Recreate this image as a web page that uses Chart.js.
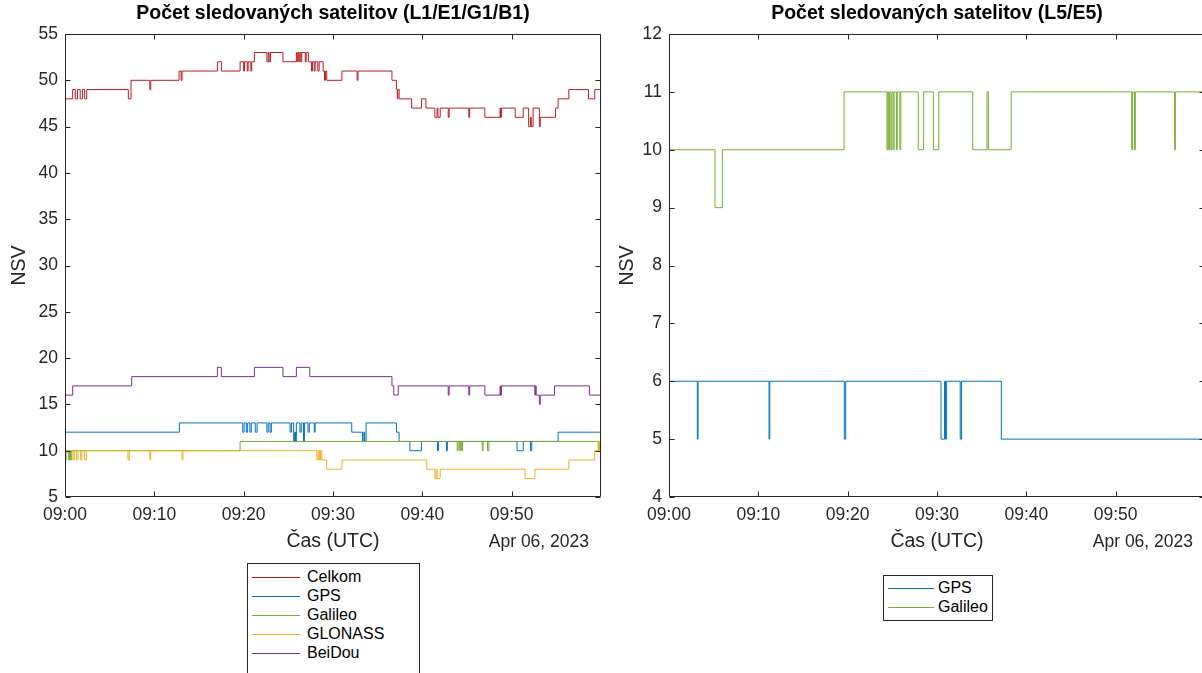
<!DOCTYPE html>
<html>
<head>
<meta charset="utf-8">
<script src="https://cdn.jsdelivr.net/npm/chart.js@4/dist/chart.umd.min.js"></script>
<style>
  html, body { margin: 0; padding: 0; background: #fff; }
  body { width: 1202px; height: 673px; overflow: hidden; position: relative;
         font-family: "Liberation Sans", Arial, Helvetica, sans-serif; }
  canvas { position: absolute; top: 0; }
  #chartL1 { left: 0; }
  #chartL5 { left: 610px; }
  .legend { position: absolute; border: 1px solid #262626; background: #fff;
            font-size: 16px; color: #000; box-sizing: border-box; }
  .legend .row { position: absolute; height: 19px; line-height: 19px; white-space: nowrap; }
  .legend .swatch { display: inline-block; height: 0; border-top: 1px solid;
                    vertical-align: middle; }
  .legend .name { position: absolute; top: 0; }
</style>
</head>
<body>
<canvas id="chartL1" width="610" height="560"></canvas>
<canvas id="chartL5" width="610" height="560"></canvas>
<div class="legend" id="legendL1" style="left:247px; top:563px; width:173px; height:125px;"></div>
<div class="legend" id="legendL5" style="left:883px; top:575px; width:110px; height:46px;"></div>

<script>
// ---- axis ticks (minutes after 09:00 UTC) ----
const timeTicks = [0, 10, 20, 30, 40, 50];
const timeTickLabels = ['09:00', '09:10', '09:20', '09:30', '09:40', '09:50'];
const dateLabel = 'Apr 06, 2023';
const nsvTicksL1 = [5, 10, 15, 20, 25, 30, 35, 40, 45, 50, 55];
const nsvTicksL5 = [4, 5, 6, 7, 8, 9, 10, 11, 12];

// ---- L1/E1/G1/B1 band: change points (minute) and tracked satellite count ----
const celkomT = [0, 0.86, 1.15, 1.4, 1.7, 1.95, 2.2, 2.43, 7.09, 7.39, 9.5, 9.6,
  12.77, 13.0, 13.1, 17.06, 17.5, 19.6, 20.0, 20.1, 20.4, 20.5, 20.8, 20.9, 21.2,
  22.6, 22.75, 22.85, 23.0, 24.4, 25.9, 26.0, 26.1, 26.2, 26.3, 26.4, 26.5, 26.9, 27.0,
  27.25, 27.6, 27.7, 27.9, 28.0, 28.3, 28.45, 28.9, 29.05, 29.15, 29.3, 31.0, 32.7, 32.8,
  36.6, 37.1, 37.2, 37.25, 37.4, 38.8, 39.9, 40.4, 41.4, 41.65, 41.75, 42.0, 42.9, 43.0,
  45.2, 45.3, 47.0, 48.7, 48.75, 48.85, 50.4, 51.3, 51.9, 52.1, 52.2, 52.4, 53.1, 53.2,
  54.9, 55.2, 56.4, 58.6, 59.3, 60];
const celkomV = [48, 49, 48, 49, 48, 49, 48, 49, 48, 50, 49, 50,
  51, 50, 51, 52, 51, 52, 51, 52, 51, 52, 51, 52, 53,
  52, 53, 52, 53, 52, 53, 52, 53, 52, 53, 52, 53, 52, 53,
  52, 51, 52, 51, 52, 51, 52, 51, 50, 51, 50, 51, 50, 51,
  50, 49, 48, 49, 48, 47, 48, 47, 46, 47, 46, 47, 46, 47,
  46, 47, 46, 47, 46, 47, 46, 47, 45, 46, 45, 47, 45, 46,
  47, 48, 49, 48, 49, 49];

const gpsT = [0, 12.8, 19.9, 20.05, 20.3, 20.45, 20.7, 20.85, 21.3, 21.5,
  22.6, 22.75, 22.95, 23.1, 25.2, 25.35, 25.6, 25.7, 25.8, 25.9, 26.3, 26.45, 26.7, 26.8,
  27.2, 27.35, 27.9, 28.0, 32.1, 33.3, 33.45, 33.55, 33.7, 37.1, 37.4, 38.6, 39.9,
  41.7, 41.8, 42.7, 42.8, 50.6, 51.3, 52.1, 52.25, 55.2, 60];
const gpsV = [12, 13, 12, 13, 12, 13, 12, 13, 12, 13,
  12, 13, 12, 13, 12, 13, 11, 12, 11, 13, 12, 13, 11, 13,
  12, 13, 12, 13, 12, 11, 12, 11, 13, 12, 11, 10, 11,
  10, 11, 10, 11, 10, 11, 10, 11, 12, 12];

const galileoT = [0, 0.37, 0.5, 0.62, 0.75, 19.6, 43.9, 44.0, 44.15, 44.25, 44.4, 44.5,
  46.7, 46.8, 47.3, 47.45, 59.7, 59.85, 60];
const galileoV = [10, 9, 10, 9, 10, 11, 10, 11, 10, 11, 10, 11,
  10, 11, 10, 11, 10, 11, 11];

const glonassT = [0, 0.15, 0.9, 1.05, 1.3, 1.45, 1.75, 1.9, 2.2, 2.4, 7.05, 7.2, 9.5, 9.6,
  13.1, 13.2, 28.2, 28.35, 28.5, 28.6, 28.75, 29.3, 31.0, 40.5, 41.4, 41.55, 41.65, 42.0,
  51.5, 52.6, 56.4, 59.3, 59.7, 59.85, 60];
const glonassV = [9, 10, 9, 10, 9, 10, 9, 10, 9, 10, 9, 10, 9, 10,
  9, 10, 9, 10, 9, 10, 9, 8, 9, 8, 7, 8, 7, 8,
  7, 8, 9, 10, 11, 10, 10];

const beidouT = [0, 0.86, 7.47, 17.06, 17.5, 21.2, 24.4, 25.9, 27.4, 36.6, 36.8, 37.3,
  42.9, 43.0, 45.2, 45.3, 47.0, 48.7, 48.75, 48.85, 52.6, 52.65, 52.75, 53.1, 53.2,
  54.8, 58.7, 60];
const beidouV = [16, 17, 18, 19, 18, 19, 18, 19, 18, 17, 16, 17,
  16, 17, 16, 17, 16, 17, 16, 17, 16, 17, 16, 15, 16,
  17, 16, 16];

// ---- L5/E5 band ----
const gpsL5T = [0, 3.17, 3.25, 11.2, 11.28, 19.62, 19.78, 30.45, 30.85, 30.95, 31.05,
  32.6, 32.75, 37.2, 60];
const gpsL5V = [6, 5, 6, 5, 6, 5, 6, 5, 6, 5, 6, 5, 6, 5, 5];

const galileoE5T = [0, 5.15, 5.97, 19.6, 24.4, 24.5, 24.6, 24.7, 24.85, 24.95, 25.1, 25.2,
  25.45, 25.55, 25.85, 25.95, 27.9, 28.5, 29.6, 30.2, 34.0, 35.6, 35.75, 38.3,
  51.8, 51.9, 52.1, 52.2, 56.6, 56.68, 60];
const galileoE5V = [10, 9, 10, 11, 10, 11, 10, 11, 10, 11, 10, 11,
  10, 11, 10, 11, 10, 11, 10, 11, 10, 11, 10, 11,
  10, 11, 10, 11, 10, 11, 11];

// ---- styling ----
const FONT = '"Liberation Sans", Arial, Helvetica, sans-serif';
const AXIS = '#262626';
const TICK_SIZE = 17.5;
const LABEL_SIZE = 19.5;
const COLORS = {
  celkom: '#B81D24', gps: '#0072BD', galileo: '#77AC30',
  glonass: '#EDB120', beidou: '#7E2F8E'
};
Chart.defaults.font.family = FONT;

function points(ts, vs) { return ts.map((t, i) => ({ x: t, y: vs[i] })); }

// later series are painted over earlier ones
function series(list) {
  return list.map((s, i) => ({
    label: s.label, data: points(s.t, s.v), borderColor: s.color,
    borderWidth: 1, stepped: true, pointRadius: 0, fill: false,
    order: list.length - 1 - i
  }));
}

// box around the plot area, inward tick marks on all four sides, date under the time axis
const frame = {
  id: 'frame',
  afterDraw(chart) {
    const { ctx, chartArea: a, scales: { x, y } } = chart;
    const L = Math.round(a.left) + 0.5, R = Math.round(a.right) - 0.5;
    const T = Math.round(a.top) + 0.5, B = Math.round(a.bottom) - 0.5;
    ctx.save();
    ctx.strokeStyle = AXIS;
    ctx.lineWidth = 1;
    ctx.beginPath();
    ctx.rect(L, T, R - L, B - T);
    const len = 5;
    x.ticks.forEach(t => {
      const px = Math.round(x.getPixelForValue(t.value)) + 0.5;
      ctx.moveTo(px, B); ctx.lineTo(px, B - len);
      ctx.moveTo(px, T); ctx.lineTo(px, T + len);
    });
    y.ticks.forEach(t => {
      const py = Math.round(y.getPixelForValue(t.value)) + 0.5;
      ctx.moveTo(L, py); ctx.lineTo(L + len, py);
      ctx.moveTo(R, py); ctx.lineTo(R - len, py);
    });
    ctx.stroke();
    ctx.fillStyle = AXIS;
    ctx.font = TICK_SIZE + 'px ' + FONT;
    ctx.textAlign = 'right';
    ctx.textBaseline = 'middle';
    ctx.fillText(dateLabel, a.right - 12, chart.options.dateY);
    ctx.restore();
  }
};

function makeChart(id, title, data, yMin, yMax, yTicks, yAxisWidth, rightPad, nsvPad) {
  return new Chart(document.getElementById(id), {
    type: 'line',
    data: { datasets: data },
    plugins: [frame],
    options: {
      responsive: false,
      animation: false,
      dateY: 542,
      layout: { padding: { left: 0, right: rightPad, top: 0, bottom: 0 } },
      plugins: {
        legend: { display: false },
        tooltip: { enabled: false },
        title: {
          display: true, text: title, color: '#000', fullSize: false,
          font: { size: LABEL_SIZE, weight: 'bold', lineHeight: '20px' },
          padding: { top: 4, bottom: 10 }
        }
      },
      scales: {
        x: {
          type: 'linear', min: 0, max: 60,
          afterBuildTicks: s => { s.ticks = timeTicks.map(v => ({ value: v })); },
          afterFit: s => { s.height = 63; },
          grid: { display: false, drawTicks: false },
          border: { display: false },
          ticks: {
            color: AXIS, font: { size: TICK_SIZE }, padding: 8, maxRotation: 0, autoSkip: false,
            callback: v => timeTickLabels[timeTicks.indexOf(v)]
          },
          title: {
            display: true, text: 'Čas (UTC)', color: AXIS,
            font: { size: LABEL_SIZE, lineHeight: '20px' }, padding: { top: 0, bottom: 8 }
          }
        },
        y: {
          type: 'linear', min: yMin, max: yMax,
          afterBuildTicks: s => { s.ticks = yTicks.map(v => ({ value: v })); },
          afterFit: s => { s.width = yAxisWidth; },
          grid: { display: false, drawTicks: false },
          border: { display: false },
          ticks: { color: AXIS, font: { size: TICK_SIZE }, padding: 7, autoSkip: false },
          title: {
            display: true, text: 'NSV', color: AXIS,
            font: { size: LABEL_SIZE, lineHeight: '20px' }, padding: { top: nsvPad, bottom: 0 }
          }
        }
      }
    }
  });
}

const l1Series = [
  { label: 'Celkom', t: celkomT, v: celkomV, color: COLORS.celkom },
  { label: 'GPS', t: gpsT, v: gpsV, color: COLORS.gps },
  { label: 'Galileo', t: galileoT, v: galileoV, color: COLORS.galileo },
  { label: 'GLONASS', t: glonassT, v: glonassV, color: COLORS.glonass },
  { label: 'BeiDou', t: beidouT, v: beidouV, color: COLORS.beidou }
];
const l5Series = [
  { label: 'GPS', t: gpsL5T, v: gpsL5V, color: COLORS.gps },
  { label: 'Galileo', t: galileoE5T, v: galileoE5V, color: COLORS.galileo }
];

makeChart('chartL1', 'Počet sledovaných satelitov (L1/E1/G1/B1)',
  series(l1Series), 5, 55, nsvTicksL1, 65, 9, 10);
makeChart('chartL5', 'Počet sledovaných satelitov (L5/E5)',
  series(l5Series), 4, 12, nsvTicksL5, 59, 15, 8);

// boxed legends below each plot
function buildLegend(id, list, swatchW, textX, firstCenter) {
  const box = document.getElementById(id);
  list.forEach((s, i) => {
    const row = document.createElement('div');
    row.className = 'row';
    row.style.left = '4px';
    row.style.top = (firstCenter + 19 * i - 9.5) + 'px';
    const sw = document.createElement('span');
    sw.className = 'swatch';
    sw.style.width = swatchW + 'px';
    sw.style.borderTopColor = s.color;
    const name = document.createElement('span');
    name.className = 'name';
    name.style.left = (textX - 4) + 'px';
    name.textContent = s.label;
    row.appendChild(sw);
    row.appendChild(name);
    box.appendChild(row);
  });
}
buildLegend('legendL1', l1Series, 48, 59, 12);
buildLegend('legendL5', l5Series, 46, 54, 11);
</script>
</body>
</html>
